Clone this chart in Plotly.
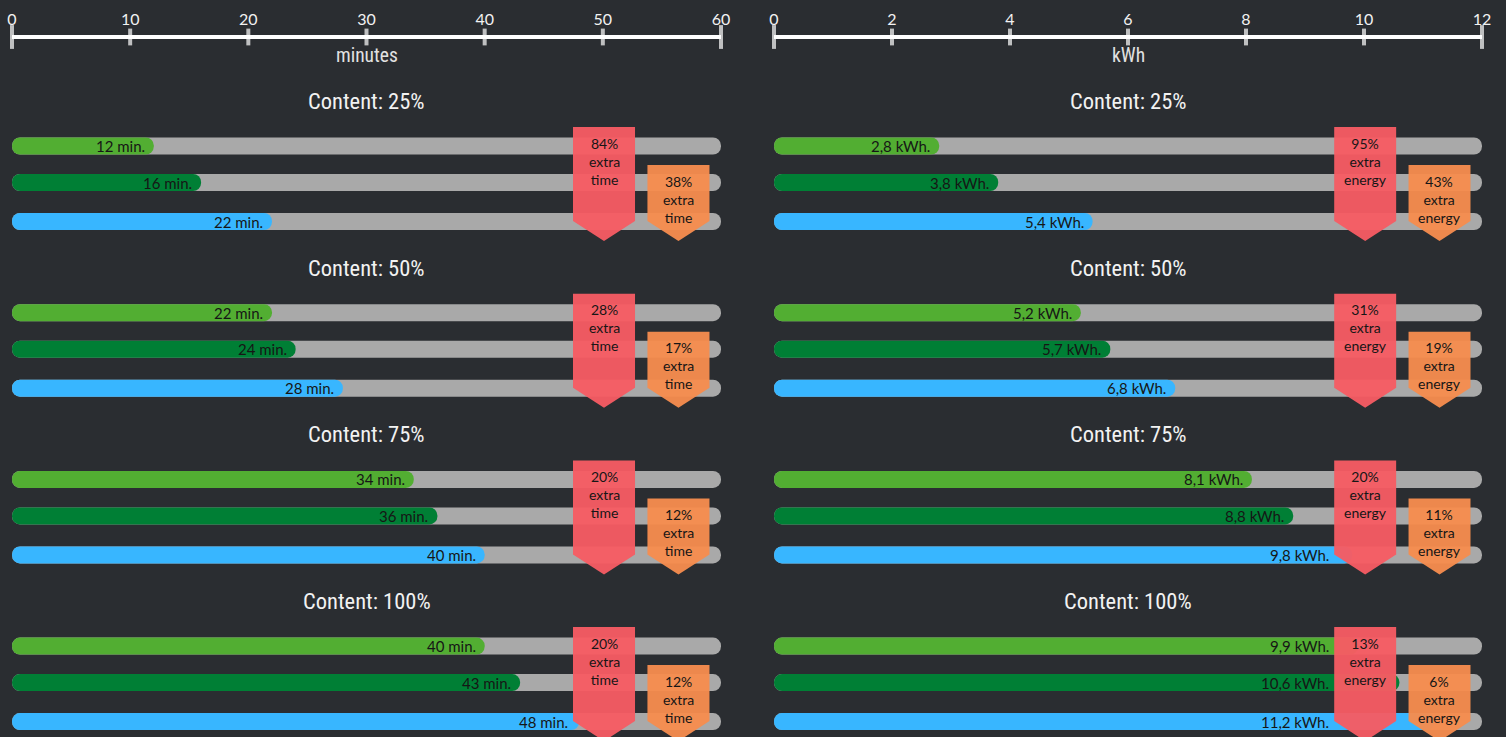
import plotly.graph_objects as go

# ---------------- data ----------------
group_titles = ["Content: 25%", "Content: 50%", "Content: 75%", "Content: 100%"]

minutes_light = [12, 22, 34, 40]
minutes_dark = [16, 24, 36, 43]
minutes_blue = [22, 28, 40, 48]

kwh_light = [2.8, 5.2, 8.1, 9.9]
kwh_dark = [3.8, 5.7, 8.8, 10.6]
kwh_blue = [5.4, 6.8, 9.8, 11.2]

extra_time_red = [84, 28, 20, 20]
extra_time_orange = [38, 17, 12, 12]
extra_energy_red = [95, 31, 20, 13]
extra_energy_orange = [43, 19, 11, 6]

minute_ticks = [0, 10, 20, 30, 40, 50, 60]
kwh_ticks = [0, 2, 4, 6, 8, 10, 12]

# ---------------- style / layout ----------------
W, H = 1506, 737
BG = "#2a2d31"
GRAY = "#a9a9a9"
LIGHT_GREEN = "#52ae32"
DARK_GREEN = "#007f35"
BLUE = "#38b6ff"
RED = "#f65c63"
ORANGE = "#f68d4e"
TXT = "#f2f2f2"
DARK_TXT = "#161616"
COND = "Liberation Sans Narrow, Roboto Condensed, DejaVu Sans Condensed, sans-serif"
ROUND = "Lato, Noto Sans, sans-serif"

AXIS_Y = 37
GROUP_TOP = 146
GROUP_STEP = 166.7
ROW_OFFS = [0, 36.5, 75.5]
BAR_W = 17
RADIUS = 8

rows = [[GROUP_TOP + g * GROUP_STEP + o for o in ROW_OFFS] for g in range(len(group_titles))]


def fmt_min(v):
    return f"{v} min."


def fmt_kwh(v):
    return f"{v:.1f}".replace(".", ",") + " kWh."


panels = [
    dict(xa="x", key="xaxis", px=(12, 721), vmax=60, ticks=minute_ticks,
         unit="minutes", fmt=fmt_min, series=[minutes_light, minutes_dark, minutes_blue],
         red=extra_time_red, orange=extra_time_orange, word="time"),
    dict(xa="x2", key="xaxis2", px=(774, 1482), vmax=12, ticks=kwh_ticks,
         unit="kWh", fmt=fmt_kwh, series=[kwh_light, kwh_dark, kwh_blue],
         red=extra_energy_red, orange=extra_energy_orange, word="energy"),
]
series_colors = [LIGHT_GREEN, DARK_GREEN, BLUE]

fig = go.Figure()
shapes = []
annotations = []
layout_axes = {}


def add_pill(xa, vals, ys, color):
    """Bar from 0 to v; with an explicit base plotly rounds both ends."""
    fig.add_trace(go.Bar(
        orientation="h", base=[0] * len(vals), x=vals, y=ys, width=BAR_W,
        marker=dict(color=color, cornerradius=RADIUS, line=dict(width=0)),
        xaxis=xa, yaxis="y", hoverinfo="skip", showlegend=False))


for p in panels:
    xa = p["xa"]
    vmax = p["vmax"]
    ppu = (p["px"][1] - p["px"][0]) / vmax  # pixels per unit
    all_rows = [y for g in rows for y in g]
    red_cx = 0.835 * vmax
    org_cx = 0.94 * vmax
    half = 0.0875 * vmax / 2
    red_left = red_cx - half

    # gray tracks
    add_pill(xa, [vmax] * len(all_rows), all_rows, GRAY)
    # value bars + labels
    for s, vals in enumerate(p["series"]):
        ys = [rows[g][s] for g in range(len(vals))]
        add_pill(xa, vals, ys, series_colors[s])
        for v, y in zip(vals, ys):
            end_px = v * ppu - 7
            lim_px = red_left * ppu - 3
            if end_px <= lim_px:
                ax, shift = v, -7
            else:
                ax, shift = red_left, -3
            annotations.append(dict(x=ax, y=y, xref=xa, yref="y", text=p["fmt"](v),
                                    xanchor="right", xshift=shift, showarrow=False,
                                    font=dict(family=ROUND, size=15, color=DARK_TXT)))

    # axis tick marks
    fig.add_trace(go.Scatter(
        x=p["ticks"], y=[AXIS_Y] * len(p["ticks"]), mode="markers",
        marker=dict(symbol="line-ns", size=[17] + [12] * (len(p["ticks"]) - 2) + [17],
                    line=dict(width=4, color="white")),
        xaxis=xa, yaxis="y", hoverinfo="skip", showlegend=False, cliponaxis=False))

    layout_axes[p["key"]] = dict(
        domain=[p["px"][0] / W, p["px"][1] / W], range=[0, vmax], side="top", anchor="free",
        position=1 - AXIS_Y / H, showline=True, linewidth=4, linecolor="white",
        showgrid=False, zeroline=False, tickvals=p["ticks"], ticks="",
        tickfont=dict(family=ROUND, size=16, color=TXT), ticklabelstandoff=4,
        automargin=False, fixedrange=True)

    mid = vmax / 2
    annotations.append(dict(x=mid, y=55, xref=xa, yref="y", text=p["unit"], showarrow=False,
                            font=dict(family=COND, size=19.5, color="#e2e2e2")))

    for g, title in enumerate(group_titles):
        y1 = rows[g][0]
        annotations.append(dict(x=mid, y=y1 - 45, xref=xa, yref="y", text=title,
                                showarrow=False,
                                font=dict(family=COND, size=22.5, color=TXT)))
        for cx, top, col, pct, tc in [
            (red_cx, y1 - 19, RED, p["red"][g], y1 + 15),
            (org_cx, y1 + 19, ORANGE, p["orange"][g], y1 + 53),
        ]:
            sb, tip = y1 + 75, y1 + 95
            path = (f"M {cx - half},{top} L {cx + half},{top} L {cx + half},{sb} "
                    f"L {cx},{tip} L {cx - half},{sb} Z")
            shapes.append(dict(type="path", path=path, xref=xa, yref="y",
                               fillcolor=col, line=dict(width=0), opacity=0.96,
                               layer="above"))
            annotations.append(dict(x=cx, y=tc, xref=xa, yref="y",
                                    text=f"{pct}%<br>extra<br>{p['word']}", showarrow=False,
                                    font=dict(family=ROUND, size=14, color=DARK_TXT)))

fig.update_layout(
    width=W, height=H, margin=dict(l=0, r=0, t=0, b=0, pad=0, autoexpand=False),
    paper_bgcolor=BG, plot_bgcolor=BG, barmode="overlay", autosize=False,
    yaxis=dict(domain=[0, 1], range=[H, 0], visible=False, fixedrange=True,
               automargin=False),
    shapes=shapes, annotations=annotations, showlegend=False,
    **layout_axes,
)

fig.write_html(
    "out.html",
    config={"displayModeBar": False, "responsive": False},
    post_script=(
        "document.documentElement.style.overflow='hidden';"
        "document.body.style.margin='0';document.body.style.background='#2a2d31';"
        "document.body.style.overflow='hidden';"
    ),
)
